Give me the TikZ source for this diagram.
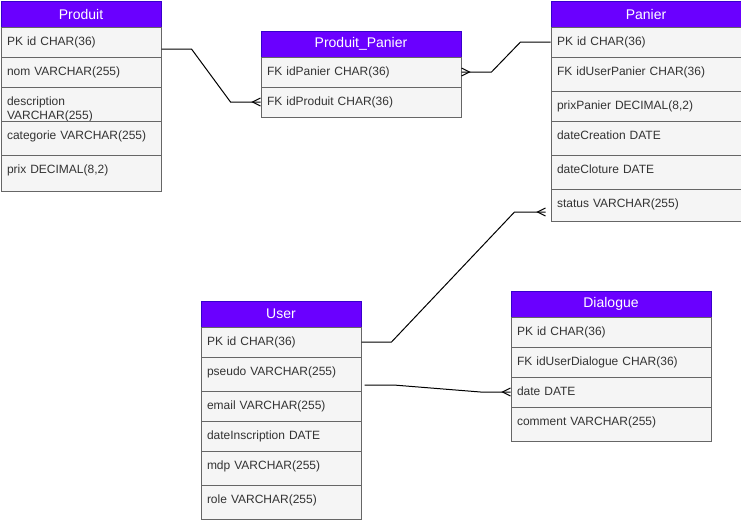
\documentclass[tikz,border=0pt]{standalone}
\usepackage{fontspec}
\setmainfont{Liberation Sans}
\usepackage{tikz}
\usetikzlibrary{arrows.meta}
\definecolor{hdr}{HTML}{6A00FF}
\definecolor{hdrline}{HTML}{3700CC}
\definecolor{rowfill}{HTML}{F5F5F5}
\definecolor{rowline}{HTML}{666666}
\definecolor{txt}{HTML}{333333}
\tikzset{
    head/.style={draw=hdrline, fill=hdr, text=white, anchor=north west, inner sep=0pt, minimum height=26pt, line width=1pt, font=\fontsize{14}{16}\selectfont},
    row/.style={draw=rowline, fill=rowfill, text=txt, anchor=north west, inner xsep=6pt, inner ysep=0pt, align=left, text width=#1, text height=18pt, text depth=12pt, line width=1pt, font=\fontsize{12}{14}\selectfont},
    link/.style={draw=black, line width=1pt},
    crow/.pic={\draw[line width=1pt] (0,-4) -- (-8,0) -- (0,4);}
}

\begin{document}
\begin{tikzpicture}[x=1pt, y=-1pt]
            \useasboundingbox (0,0) rectangle (741,522);

            \node[head, minimum width=160pt] (p0) at (0.5,0.5) {Produit};
            \node[row=148pt] (p1) at (0.5,26.5) {PK id CHAR(36)};
            \node[row=148pt] (p2) at (0.5,56.5) {nom VARCHAR(255)};
            \node[row=148pt, text depth=16pt] (p3) at (0.5,86.5) {description\\VARCHAR(255)};
            \node[row=148pt, text depth=16pt] (p4) at (0.5,120.5) {categorie VARCHAR(255)};
            \node[row=148pt, text depth=18pt] (p5) at (0.5,154.5) {prix DECIMAL(8,2)};

            \node[head, minimum width=200pt] (q0) at (260.5,30.5) {Produit\_Panier};
            \node[row=188pt] (q1) at (260.5,56.5) {FK idPanier CHAR(36)};
            \node[row=188pt] (q2) at (260.5,86.5) {FK idProduit CHAR(36)};

            \node[head, minimum width=190pt] (k0) at (550.5,0.5) {Panier};
            \node[row=178pt] (k1) at (550.5,26.5) {PK id CHAR(36)};
            \node[row=178pt, text depth=16pt] (k2) at (550.5,56.5) {FK idUserPanier CHAR(36)};
            \node[row=178pt] (k3) at (550.5,90.5) {prixPanier DECIMAL(8,2)};
            \node[row=178pt, text depth=16pt] (k4) at (550.5,120.5) {dateCreation DATE};
            \node[row=178pt, text depth=16pt] (k5) at (550.5,154.5) {dateCloture DATE};
            \node[row=178pt, text depth=14pt] (k6) at (550.5,188.5) {status VARCHAR(255)};

            \node[head, minimum width=160pt] (u0) at (200.5,300.5) {User};
            \node[row=148pt] (u1) at (200.5,326.5) {PK id CHAR(36)};
            \node[row=148pt, text depth=16pt] (u2) at (200.5,356.5) {pseudo VARCHAR(255)};
            \node[row=148pt] (u3) at (200.5,390.5) {email VARCHAR(255)};
            \node[row=148pt] (u4) at (200.5,420.5) {dateInscription DATE};
            \node[row=148pt, text depth=16pt] (u5) at (200.5,450.5) {mdp VARCHAR(255)};
            \node[row=148pt, text depth=16pt] (u6) at (200.5,484.5) {role VARCHAR(255)};

            \node[head, minimum width=200pt] (d0) at (510.5,290.5) {Dialogue};
            \node[row=188pt] (d1) at (510.5,316.5) {PK id CHAR(36)};
            \node[row=188pt] (d2) at (510.5,346.5) {FK idUserDialogue CHAR(36)};
            \node[row=188pt] (d3) at (510.5,376.5) {date DATE};
            \node[row=188pt, text depth=16pt] (d4) at (510.5,406.5) {comment VARCHAR(255)};

            \draw[link] ([yshift=-7pt]p1.east) -- ++(30,0) -- ([xshift=-30pt]q2.west) -- (q2.west);
            \draw[link] (q1.east) -- ++(30,0) -- ([xshift=-30pt]k1.west) -- (k1.west);
            \draw[link] (u1.east) -- ++(30,0) -- ([xshift=-36pt,yshift=-7pt]k6.west) -- ([xshift=-5pt,yshift=-7pt]k6.west);
            \draw[link] ([xshift=3pt,yshift=-11pt]u2.east) -- ++(29,0) -- ([xshift=-30pt]d3.west) -- (d3.west);
            \pic at (q2.west) {crow};
            \pic[xscale=-1] at (q1.east) {crow};
            \pic at ([xshift=-5pt,yshift=-7pt]k6.west) {crow};
            \pic at (d3.west) {crow};
        \end{tikzpicture}
\end{document}
